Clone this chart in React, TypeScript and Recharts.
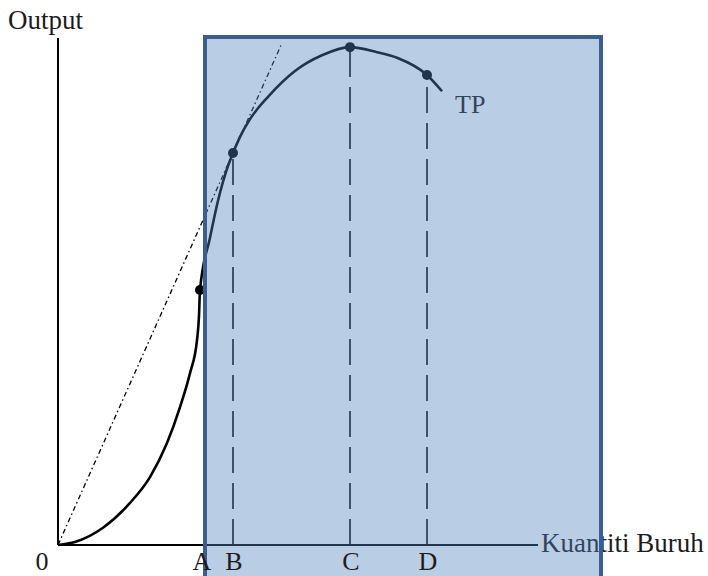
import React from 'react'
import {
  ComposedChart,
  Line,
  Scatter,
  XAxis,
  YAxis,
  ReferenceLine,
  ReferenceArea,
} from 'recharts'

// total product curve (labour quantity vs output)
const labourQty = [0, 1.7, 4.5, 7.2, 9.2, 10.9, 12.2, 13.2, 13.9, 14.1, 14.2, 15.2, 16.0, 16.8, 17.5, 18.2, 19.2, 21.0, 23.7, 26.4, 29.2, 31.9, 33.9, 36.9, 38.4]
const totalOutput = [0, 0.6, 3.4, 8.3, 13.4, 20.1, 27.2, 33.9, 40.4, 45.2, 50.3, 60.6, 67.9, 73.6, 77.3, 80.5, 84.0, 88.4, 93.5, 96.6, 98.2, 97.2, 96.1, 92.7, 89.5]

// marked points on the curve
const pointLabels = ['A', 'B', 'C', 'D']
const pointQty = [14.2, 17.5, 29.2, 36.9]
const pointOutput = [50.3, 77.3, 98.2, 92.7]

// ray from the origin, tangent at B
const rayQty = [0, 22.4]
const rayOutput = [0, 99.0]

const tpCurve = labourQty.map((x, i) => ({ x, y: totalOutput[i] }))
const keyPoints = pointLabels.map((name, i) => ({ name, x: pointQty[i], y: pointOutput[i] }))
const tangentRay = rayQty.map((x, i) => ({ x, y: rayOutput[i] }))

const FONT = '"Liberation Serif", "Times New Roman", serif'
const TEXT = '#1c1c1c'

function QtyTick({ x, y, payload }: any) {
  const v = payload.value
  const p = keyPoints.find((k) => k.x === v)
  const label = p ? p.name : '0'
  const dx = p ? (p.name === 'A' ? 2 : 1) : -16
  return (
    <text x={x + dx} y={y + 17} textAnchor="middle" fontFamily={FONT} fontSize={26} fill={TEXT}>
      {label}
    </text>
  )
}

export default function App() {
  return (
    <div style={{ width: 708, height: 576, background: '#fff' }}>
      <style>{'body{margin:0}'}</style>
      <ComposedChart
        width={708}
        height={576}
        margin={{ top: 38, right: 170, bottom: 0, left: 0 }}
      >
        <XAxis
          type="number"
          dataKey="x"
          domain={[0, 48]}
          ticks={[0, ...pointQty]}
          height={31}
          axisLine={{ stroke: '#000', strokeWidth: 2 }}
          tickLine={false}
          tick={<QtyTick />}
          interval={0}
        />
        <YAxis
          type="number"
          dataKey="y"
          domain={[0, 100]}
          width={58}
          axisLine={{ stroke: '#000', strokeWidth: 2 }}
          tickLine={false}
          tick={false}
        />

        <Line
          data={tangentRay}
          dataKey="y"
          type="linear"
          stroke="#000"
          strokeWidth={1.3}
          strokeDasharray="5 3 1.5 3"
          dot={false}
          activeDot={false}
          isAnimationActive={false}
        />
        <Line
          data={tpCurve}
          dataKey="y"
          type="monotone"
          stroke="#000"
          strokeWidth={2.6}
          dot={false}
          activeDot={false}
          isAnimationActive={false}
        />

        {keyPoints.slice(1).map((p) => (
          <ReferenceLine
            key={p.name}
            segment={[{ x: p.x, y: 0 }, { x: p.x, y: p.y }]}
            stroke="#000"
            strokeWidth={1.6}
            strokeDasharray="26 10"
          />
        ))}

        <Scatter
          data={keyPoints}
          isAnimationActive={false}
          shape={(props: any) => <circle cx={props.cx} cy={props.cy} r={5} fill="#000" />}
        />

        <text x={8} y={29} fontFamily={FONT} fontSize={27} fill={TEXT}>Output</text>
        <text x={541} y={552} fontFamily={FONT} fontSize={27} fill={TEXT}>Kuantiti Buruh</text>
        <text x={455} y={113} fontFamily={FONT} fontSize={26} fill={TEXT}>TP</text>

        <ReferenceArea
          x1={14.7}
          x2={54.3}
          y1={-8}
          y2={100.2}
          ifOverflow="visible"
          fill="#4f81bd"
          fillOpacity={0.4}
          stroke="#3a5f8f"
          strokeWidth={4}
          zIndex={1500}
        />
      </ComposedChart>
    </div>
  )
}
